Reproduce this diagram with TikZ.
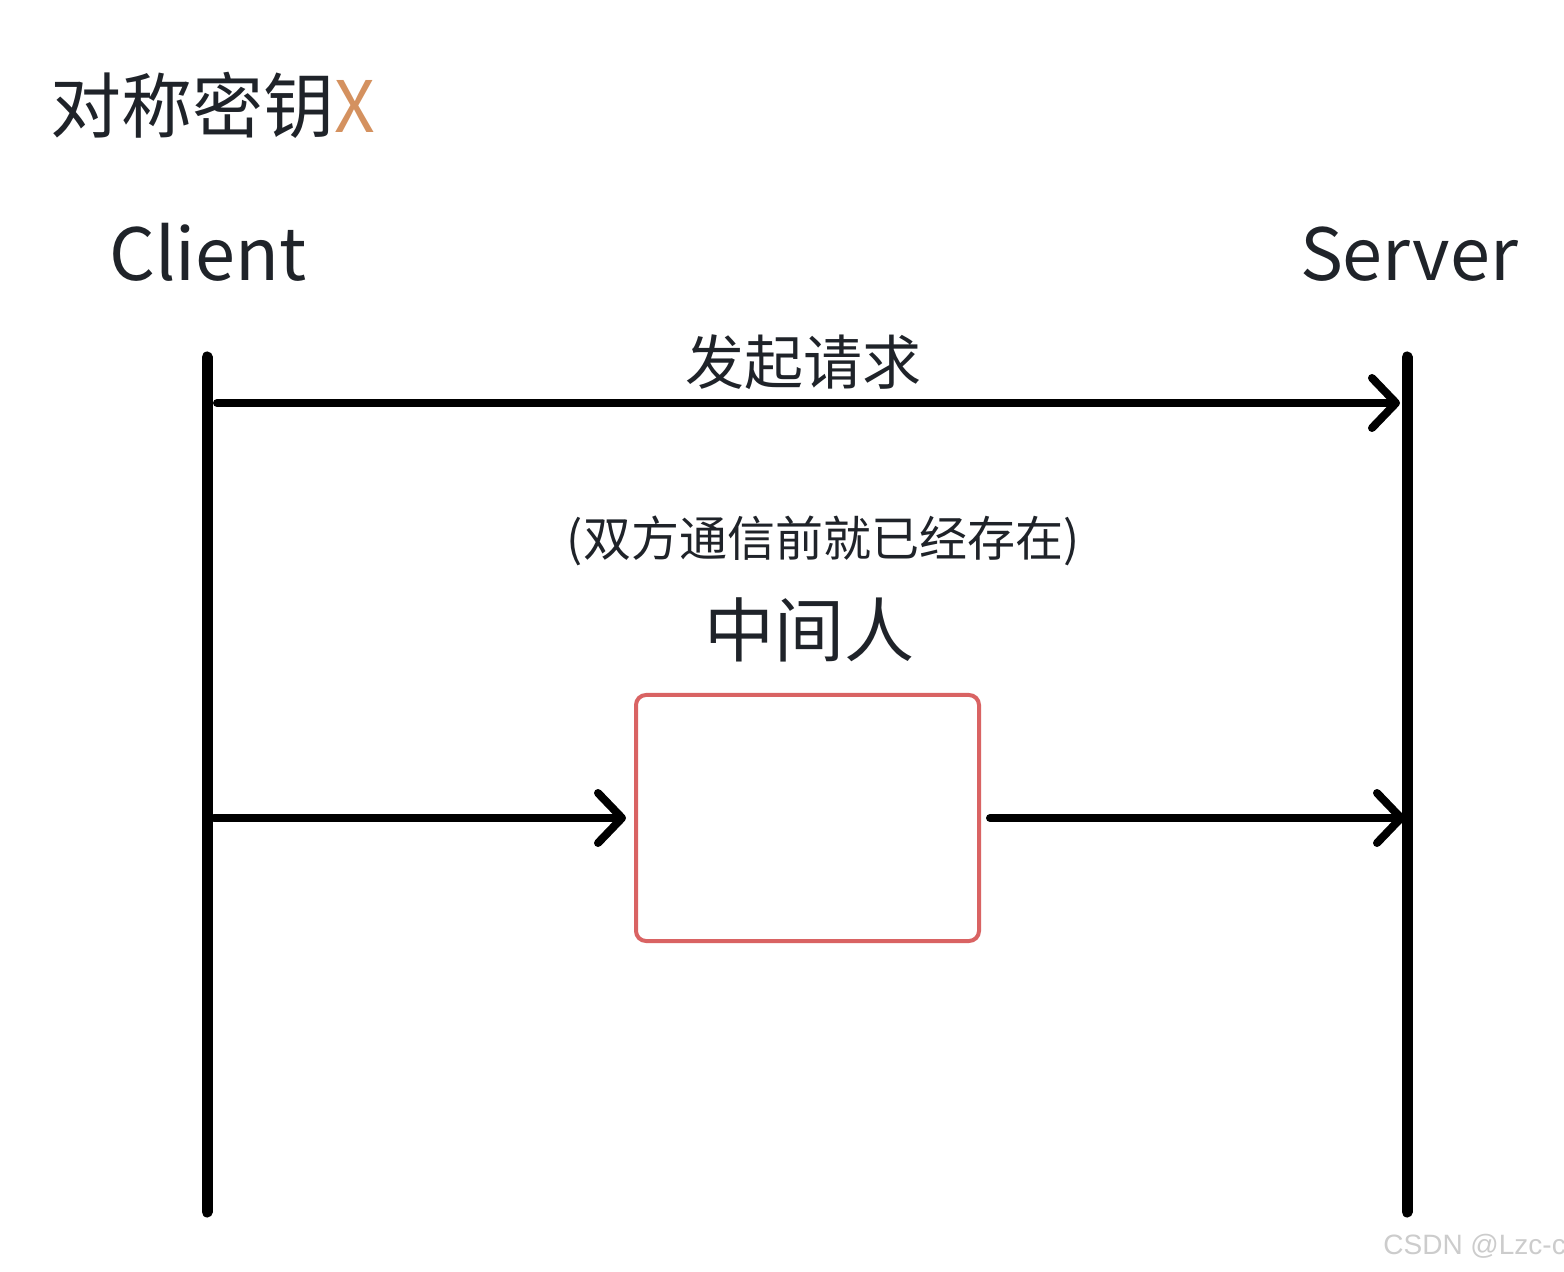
\documentclass[tikz,border=0pt]{standalone}
\usepackage{fontspec}
\setmainfont{Noto Sans CJK SC}
\newfontfamily\wmfont{Liberation Sans}
\usetikzlibrary{arrows.meta}
\definecolor{txt}{HTML}{1F2329}
\definecolor{keyx}{HTML}{D4915F}
\definecolor{boxred}{HTML}{D96363}
\definecolor{wm}{HTML}{CCCCCC}
\tikzset{
  lifeline/.style={line width=5.5pt, line cap=round, black},
  msg/.style={line width=4pt, line cap=round, line join=round, black,
    -{Straight Barb[length=12pt,width=25pt,round]}},
  lbl/.style={inner sep=0pt, text=txt},
  mitm/.style={draw=boxred, line width=2pt, rounded corners=5pt, minimum width=171.5pt, minimum height=123pt, inner sep=0pt}
}
\begin{document}
\begin{tikzpicture}[x=0.5pt,y=-0.5pt]
\useasboundingbox (0,0) rectangle (1564,1272);
% title
\node[lbl, anchor=west, font=\fontsize{35.5pt}{40pt}\selectfont] (title) at (50,105) {对称密钥\textcolor{keyx}{X}};
% participants
\node[lbl, anchor=base, font=\fontsize{36pt}{40pt}\selectfont] (client) at (208,281) {Client};
\node[lbl, anchor=base, font=\fontsize{36pt}{40pt}\selectfont] (server) at (1409,281) {Server};
% lifelines
\coordinate (ctop) at (207,357);
\coordinate (cbot) at (207,1212);
\coordinate (stop) at (1407,357);
\coordinate (sbot) at (1407,1212);
\draw[lifeline] (ctop) -- (cbot);
\draw[lifeline] (stop) -- (sbot);
% request
\coordinate (r1) at (217,403);
\coordinate (r2) at (1400,403);
\draw[msg] (r1) -- (r2);
\node[lbl, font=\fontsize{29.5pt}{33pt}\selectfont] (req) at (803,362) {发起请求};
% middle
\node[lbl, font=\fontsize{24pt}{28pt}\selectfont] (note) at (823,541) {(双方通信前就已经存在)};
\node[lbl, font=\fontsize{35pt}{40pt}\selectfont] (mlabel) at (809,630) {中间人};
\node[mitm] (box) at (807.5,818) {};
\coordinate (a1) at (214,818);
\coordinate (a2) at (626,818);
\coordinate (b1) at (990,818);
\coordinate (b2) at (1405,818);
\draw[msg] (a1) -- (a2);
\draw[msg] (b1) -- (b2);
% watermark
\node[inner sep=0pt, anchor=base west, text=wm, font=\wmfont\fontsize{14pt}{16pt}\selectfont] (wmk) at (1383,1254) {CSDN @Lzc-c};
\end{tikzpicture}
\end{document}
